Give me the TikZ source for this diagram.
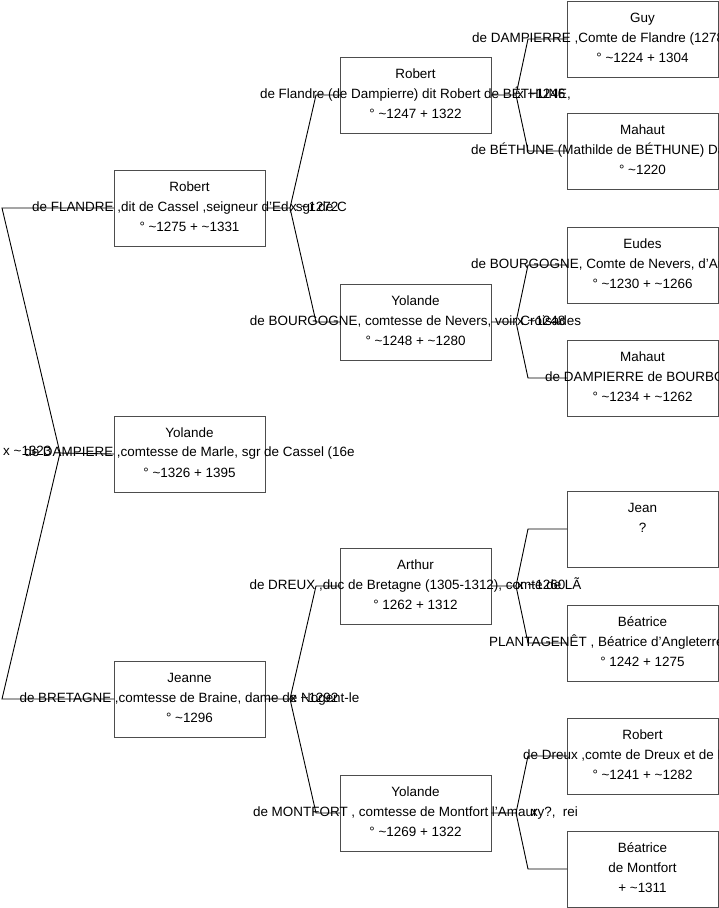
\documentclass[tikz,border=0pt]{standalone}
\usepackage{fontspec}
\setmainfont{Liberation Sans}
\newcommand\chartfont{\fontsize{13.5}{16}\selectfont}
\definecolor{boxline}{HTML}{4D4D4D}
\tikzset{
  person/.style={draw=boxline, line width=1bp, minimum width=151bp, minimum height=76bp, inner sep=0pt, outer sep=0pt, anchor=north west},
  ln/.style={anchor=base, inner sep=0pt, font=\chartfont},
  lnw/.style={anchor=base west, inner sep=0pt, font=\chartfont},
  link/.style={draw=black, line width=0.9bp},
}
\begin{document}
\begin{tikzpicture}[x=1bp,y=-1bp]
\useasboundingbox (0,0) rectangle (719,908);
\clip (0,0) rectangle (719,908);
\fill[white] (0,0) rectangle (719,908);

% ---------- boxes ----------
\node[person] (robA) at (114,170) {};
\node[person] (yolA) at (114,416) {};
\node[person] (jeaA) at (114,661) {};
\node[person] (robB) at (340,57) {};
\node[person] (yolB) at (340,284) {};
\node[person] (artB) at (340,548) {};
\node[person] (yolC) at (340,775) {};
\node[person] (guy)  at (567,1) {};
\node[person] (mahA) at (567,113) {};
\node[person] (eud)  at (567,227) {};
\node[person] (mahB) at (567,340) {};
\node[person] (jean) at (567,491) {};
\node[person] (beaA) at (567,605) {};
\node[person] (robC) at (567,718) {};
\node[person] (beaB) at (567,831) {};

% ---------- connectors ----------
\coordinate (f0) at (60,453);
\coordinate (f0a) at (2,208);
\coordinate (f0b) at (2,699);
\draw[link] (yolA.west) -- (f0) -- (f0a) -- (robA.west);
\draw[link] (f0) -- (f0b) -- (jeaA.west);

\coordinate (f1) at (290,208);
\coordinate (f1a) at (316,95);
\coordinate (f1b) at (316,322);
\draw[link] (robA.east) -- (f1) -- (f1a) -- (robB.west);
\draw[link] (f1) -- (f1b) -- (yolB.west);

\coordinate (f2) at (290,699);
\coordinate (f2a) at (316,586);
\coordinate (f2b) at (316,813);
\draw[link] (jeaA.east) -- (f2) -- (f2a) -- (artB.west);
\draw[link] (f2) -- (f2b) -- (yolC.west);

\coordinate (f3) at (516,95);
\coordinate (f3a) at (528,39);
\coordinate (f3b) at (528,151);
\draw[link] (robB.east) -- (f3) -- (f3a) -- (guy.west);
\draw[link] (f3) -- (f3b) -- (mahA.west);

\coordinate (f4) at (516,322);
\coordinate (f4a) at (528,265);
\coordinate (f4b) at (528,378);
\draw[link] (yolB.east) -- (f4) -- (f4a) -- (eud.west);
\draw[link] (f4) -- (f4b) -- (mahB.west);

\coordinate (f5) at (516,586);
\coordinate (f5a) at (528,529);
\coordinate (f5b) at (528,643);
\draw[link] (artB.east) -- (f5) -- (f5a) -- (jean.west);
\draw[link] (f5) -- (f5b) -- (beaA.west);

\coordinate (f6) at (516,813);
\coordinate (f6a) at (528,756);
\coordinate (f6b) at (528,869);
\draw[link] (yolC.east) -- (f6) -- (f6a) -- (robC.west);
\draw[link] (f6) -- (f6b) -- (beaB.west);

% ---------- texts, column 1 ----------
\node[ln] (robA1) at (189.5,191) {Robert};
\node[ln] (robA2) at (189.5,211) {de FLANDRE ,dit de Cassel ,seigneur d'Ed, sgr de C};
\node[ln] (robA3) at (189.5,231) {° \textasciitilde1275 + \textasciitilde1331};

\node[ln] (yolA1) at (189.5,437) {Yolande};
\node[ln] (yolA2) at (189.5,456) {de DAMPIERE ,comtesse de Marle, sgr de Cassel (16e};
\node[ln] (yolA3) at (189.5,477) {° \textasciitilde1326 + 1395};

\node[ln] (jeaA1) at (189.5,682) {Jeanne};
\node[ln] (jeaA2) at (189.5,702) {de BRETAGNE ,comtesse de Braine, dame de Nogent-le};
\node[ln] (jeaA3) at (189.5,722) {° \textasciitilde1296};

% ---------- texts, column 2 ----------
\node[ln] (robB1) at (415.5,78) {Robert};
\node[ln] (robB2) at (415.5,98) {de Flandre (de Dampierre) dit Robert de BÉTHUNE,};
\node[ln] (robB3) at (415.5,118) {° \textasciitilde1247 + 1322};

\node[ln] (yolB1) at (415.5,305) {Yolande};
\node[ln] (yolB2) at (415.5,325) {de BOURGOGNE, comtesse de Nevers, voir Croisades};
\node[ln] (yolB3) at (415.5,345) {° \textasciitilde1248 + \textasciitilde1280};

\node[ln] (artB1) at (415.5,569) {Arthur};
\node[ln] (artB2) at (415.5,589) {de DREUX ,duc de Bretagne (1305-1312), comte de LÃ};
\node[ln] (artB3) at (415.5,609) {° 1262 + 1312};

\node[ln] (yolC1) at (415.5,796) {Yolande};
\node[ln] (yolC2) at (415.5,816) {de MONTFORT , comtesse de Montfort l'Amaury?,\ \ rei};
\node[ln] (yolC3) at (415.5,836) {° \textasciitilde1269 + 1322};

% ---------- texts, column 3 ----------
\node[ln] (guy1) at (642.5,22) {Guy};
\node[lnw] (guy2) at (472,42) {de DAMPIERRE ,Comte de Flandre (1278};
\node[ln] (guy3) at (642.5,62) {° \textasciitilde1224 + 1304};

\node[ln] (mahA1) at (642.5,134) {Mahaut};
\node[lnw] (mahA2) at (471,154) {de BÉTHUNE (Mathilde de BÉTHUNE) Da};
\node[ln] (mahA3) at (642.5,174) {° \textasciitilde1220};

\node[ln] (eud1) at (642.5,248) {Eudes};
\node[lnw] (eud2) at (471,268) {de BOURGOGNE, Comte de Nevers, d'Au};
\node[ln] (eud3) at (642.5,288) {° \textasciitilde1230 + \textasciitilde1266};

\node[ln] (mahB1) at (642.5,361) {Mahaut};
\node[lnw] (mahB2) at (545,381) {de DAMPIERRE de BOURBON};
\node[ln] (mahB3) at (642.5,401) {° \textasciitilde1234 + \textasciitilde1262};

\node[ln] (jean1) at (642.5,512) {Jean};
\node[ln] (jean2) at (642.5,532) {?};

\node[ln] (beaA1) at (642.5,626) {Béatrice};
\node[lnw] (beaA2) at (489,646) {PLANTAGENÊT , Béatrice d'Angleterre};
\node[ln] (beaA3) at (642.5,666) {° 1242 + 1275};

\node[ln] (robC1) at (642.5,739) {Robert};
\node[lnw] (robC2) at (523,759) {de Dreux ,comte de Dreux et de B};
\node[ln] (robC3) at (642.5,779) {° \textasciitilde1241 + \textasciitilde1282};

\node[ln] (beaB1) at (642.5,852) {Béatrice};
\node[ln] (beaB2) at (642.5,872) {de Montfort};
\node[ln] (beaB3) at (642.5,892) {+ \textasciitilde1311};

% ---------- marriage labels ----------
\node[lnw] (m0) at (3,455) {x \textasciitilde1323};
\node[lnw] (m1) at (290,211) {x \textasciitilde1272};
\node[lnw] (m2) at (517,98) {x \textasciitilde1246};
\node[lnw] (m3) at (517,325) {x \textasciitilde1248};
\node[lnw] (m4) at (517,589) {x \textasciitilde1260};
\node[lnw] (m5) at (290,702) {x \textasciitilde1292};
\node[lnw] (m6) at (531,816) {x};
\end{tikzpicture}
\end{document}
